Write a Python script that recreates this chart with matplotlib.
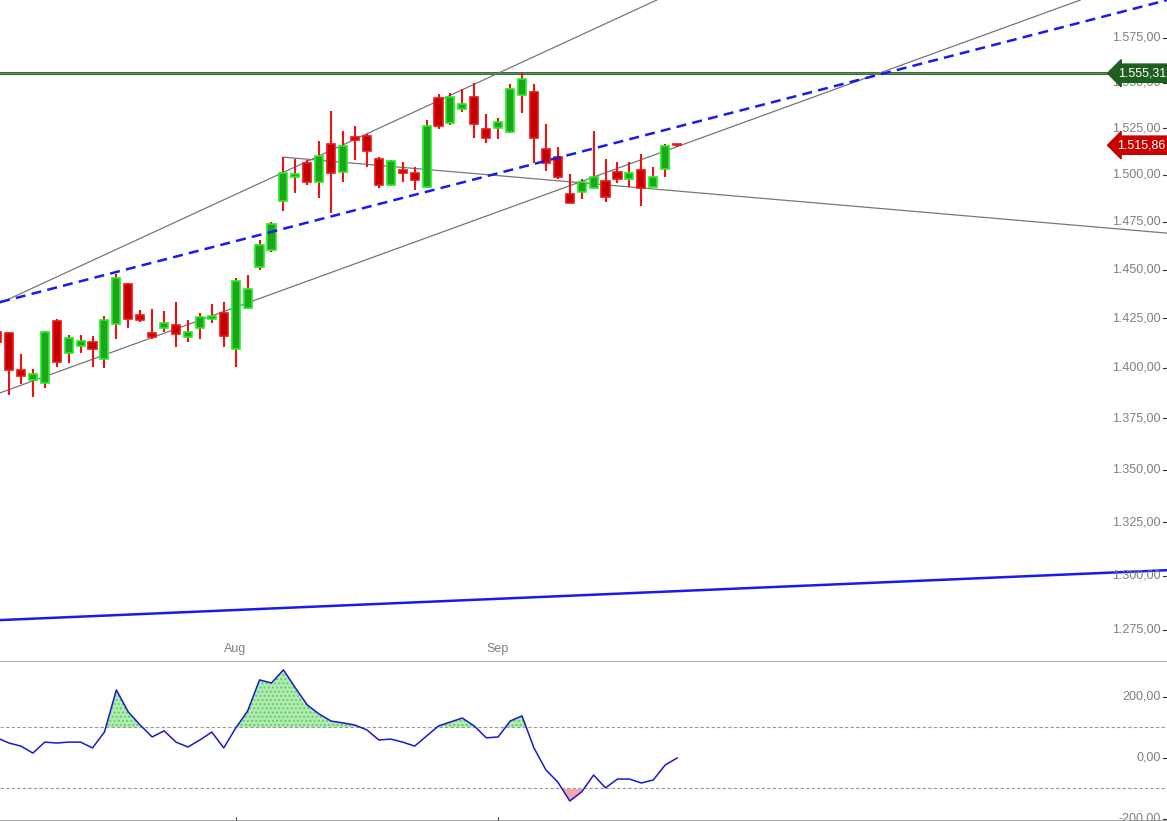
import numpy as np
import matplotlib
matplotlib.use("Agg")
import matplotlib.pyplot as plt

plt.rcParams['font.family'] = ['Liberation Sans', 'DejaVu Sans']

# velas diarias (indice -1 = vela cortada a la izquierda)
opens = [1418.0, 1417.5, 1399.0, 1394.0, 1392.5, 1423.7, 1407.4, 1411.0, 1413.0, 1404.4, 1422.1,
         1442.6, 1426.7, 1417.5, 1420.1, 1421.6, 1415.5, 1420.1, 1424.7, 1427.7, 1409.5,
         1430.3, 1451.4, 1460.2, 1486.0, 1498.7, 1506.2, 1496.1, 1516.5, 1501.4, 1520.3,
         1520.9, 1508.4, 1494.5, 1502.5, 1500.9, 1493.4, 1541.6, 1527.9, 1535.5, 1542.2,
         1524.7, 1525.2, 1523.0, 1543.3, 1544.9, 1513.8, 1509.4, 1489.7, 1490.8, 1492.9,
         1496.6, 1501.4, 1497.7, 1502.5, 1493.4, 1503.0, 1516.5]
closes = [1413.0, 1399.0, 1396.0, 1397.0, 1418.1, 1402.9, 1415.0, 1413.5, 1409.5, 1424.2, 1445.7,
          1424.7, 1424.2, 1415.5, 1422.7, 1417.0, 1418.1, 1425.7, 1426.2, 1416.0, 1444.2,
          1440.0, 1462.8, 1473.8, 1500.9, 1500.3, 1496.1, 1510.0, 1500.9, 1515.4, 1518.7,
          1512.7, 1494.5, 1507.3, 1500.9, 1497.1, 1526.3, 1526.3, 1542.2, 1538.3, 1527.4,
          1519.8, 1528.4, 1546.6, 1552.1, 1519.8, 1506.2, 1498.7, 1485.0, 1496.1, 1498.7,
          1488.1, 1497.7, 1500.9, 1492.9, 1498.7, 1515.4, 1515.86]
highs = [1419.0, 1418.1, 1406.9, 1399.5, 1418.6, 1424.7, 1416.5, 1416.5, 1416.0, 1426.2, 1447.8,
         1443.1, 1429.3, 1429.8, 1428.8, 1433.4, 1424.2, 1427.7, 1432.3, 1433.4, 1445.7,
         1447.2, 1465.4, 1474.9, 1509.4, 1508.4, 1507.8, 1518.2, 1534.5, 1523.5, 1526.3,
         1522.0, 1509.4, 1507.8, 1506.8, 1504.1, 1529.5, 1543.8, 1544.4, 1546.6, 1549.9,
         1532.8, 1530.6, 1549.4, 1556.0, 1549.4, 1527.4, 1514.9, 1500.3, 1497.7, 1523.5,
         1508.4, 1506.8, 1506.8, 1511.0, 1504.1, 1516.5, 1516.5]
lows = [1410.0, 1386.6, 1392.0, 1385.6, 1390.0, 1400.4, 1402.4, 1407.4, 1400.4, 1399.9, 1414.5,
        1420.1, 1423.2, 1414.5, 1418.1, 1410.5, 1413.0, 1414.5, 1422.7, 1410.5, 1400.4,
        1429.8, 1449.8, 1459.1, 1480.7, 1490.3, 1494.5, 1487.6, 1479.7, 1496.1, 1507.8,
        1504.1, 1492.9, 1494.0, 1496.1, 1491.8, 1492.9, 1524.7, 1526.8, 1533.9, 1519.8,
        1517.1, 1519.3, 1522.5, 1533.4, 1506.2, 1502.0, 1497.7, 1485.0, 1487.1, 1492.9,
        1485.5, 1495.6, 1493.4, 1483.4, 1493.4, 1498.7, 1514.9]

# indicador (CCI)
cci = [66, 49, 39, 16, 52, 49, 52, 52, 33, 85, 223, 151, 108, 69, 89, 52, 36, 59, 85, 33, 98,
       154, 256, 246, 289, 230, 174, 144, 121, 115, 108, 92, 59, 62, 52, 39, 72, 105, 118, 131,
       105, 66, 69, 121, 138, 33, -39, -79, -141, -111, -56, -98, -69, -69, -82, -72, -23, 0]

month_labels = ["Aug", "Sep"]
month_idx = [19, 41]

price_ticks = [1275, 1300, 1325, 1350, 1375, 1400, 1425, 1450, 1475, 1500, 1525, 1550, 1575]
cci_ticks = [200, 0, -200]

resistance = 1555.31
last_price = 1515.86

# lineas de tendencia (indice inicio, precio inicio, indice fin, precio fin)
blue_solid = [-0.75, 1279.5, 97.1, 1302.5]
blue_dash = [-0.75, 1433.3, 97.1, 1596.5]
gray_up = [-0.75, 1432.8, 54.3, 1596.5]
gray_low = [-0.75, 1387.6, 89.8, 1596.5]
gray_down = [23, 1509.4, 97.1, 1469.0]

x = np.arange(-1, len(opens) - 1)


def fmt(v):
    s = f"{v:,.2f}"
    return s.replace(",", "X").replace(".", ",").replace("X", ".")


fig = plt.figure(figsize=(11.67, 8.21), dpi=100)
ax = fig.add_axes([0, 1 - 660 / 821, 1, 660 / 821])
ax2 = fig.add_axes([0, 0, 1, 160 / 821])

for a in (ax, ax2):
    for s in a.spines.values():
        s.set_visible(False)
    a.set_xticks([])
    a.set_yticks([])
    a.set_xlim(-0.754, 97.06)

ax.set_yscale("log")
ax.set_ylim(1261.4, 1596.5)
ax.minorticks_off()
ax.set_yticks([])

# velas
for i, o, c, h, l in zip(x, opens, closes, highs, lows):
    up = c >= o
    ax.vlines(i, l, h, color="#ee1111", lw=1.5, zorder=3)
    face = "#1ea51e" if up else "#c20000"
    edge = "#22ee22" if up else "#ee1515"
    lo, hi = min(o, c), max(o, c)
    if hi - lo < 0.8:
        hi = lo + 0.8
    ax.bar(i, hi - lo, bottom=lo, width=0.68, color=face, edgecolor=edge, lw=1.2, zorder=4)

ax.axhline(resistance, color="#1f5e1f", lw=2, zorder=2)
ax.axhline(resistance, color="#6a9a6a", lw=0.6, zorder=2)


def seg(line, **kw):
    ax.plot([line[0], line[2]], [line[1], line[3]], **kw)


seg(blue_solid, color="#1a1aee", lw=1.8, zorder=2)
seg(blue_dash, color="#1a1aee", lw=1.8, ls=(0, (4, 2.5)), zorder=5)
seg(gray_up, color="#777777", lw=0.9, zorder=2)
seg(gray_low, color="#777777", lw=0.9, zorder=2)
seg(gray_down, color="#777777", lw=0.9, zorder=2)

tr = ax.get_yaxis_transform()
for p in price_ticks:
    ax.text(0.9945, p, fmt(p), transform=tr, ha="right", va="center", fontsize=9, color="#808080")
    ax.plot([0.997, 1.0], [p, p], transform=tr, color="#333333", lw=0.8)

ax.text(0.999, resistance, fmt(resistance), transform=tr, ha="right", va="center", fontsize=9,
        color="white", zorder=10,
        bbox=dict(boxstyle="larrow,pad=0.25", fc="#1f5e1f", ec="#1f5e1f"))
ax.text(0.999, last_price, fmt(last_price), transform=tr, ha="right", va="center", fontsize=9,
        color="white", zorder=10,
        bbox=dict(boxstyle="larrow,pad=0.25", fc="#c80000", ec="#c80000"))

for lab, i in zip(month_labels, month_idx):
    ax.text(i - 0.05, 0.008, lab, transform=ax.get_xaxis_transform(), ha="center", va="bottom",
            fontsize=9, color="#808080")

# panel inferior
ax2.set_ylim(-206.6, 318)
ax2.axhline(318, color="#999999", lw=1.2)
ax2.axhline(-206.6, color="#999999", lw=1.2)
ax2.axhline(100, color="#999999", lw=0.8, ls=(0, (3, 2)))
ax2.axhline(-100, color="#999999", lw=0.8, ls=(0, (3, 2)))
cci_a = np.array(cci, dtype=float)
ax2.fill_between(x, cci_a, 100, where=cci_a > 100, interpolate=True, color="#b2ecb2",
                 edgecolor="#66cc66", hatch="....", lw=0)
ax2.fill_between(x, cci_a, -100, where=cci_a < -100, interpolate=True, color="#f4a8a8", lw=0)
ax2.plot(x, cci_a, color="#1a1acc", lw=1.1)
tr2 = ax2.get_yaxis_transform()
for v in cci_ticks:
    ax2.text(0.9945, v, fmt(v), transform=tr2, ha="right", va="center", fontsize=9, color="#808080")
    ax2.plot([0.997, 1.0], [v, v], transform=tr2, color="#333333", lw=0.8)
for i in month_idx:
    ax2.plot([i, i], [-206.6, -195], color="#555555", lw=0.8)

fig.savefig("out.png", dpi=100)
